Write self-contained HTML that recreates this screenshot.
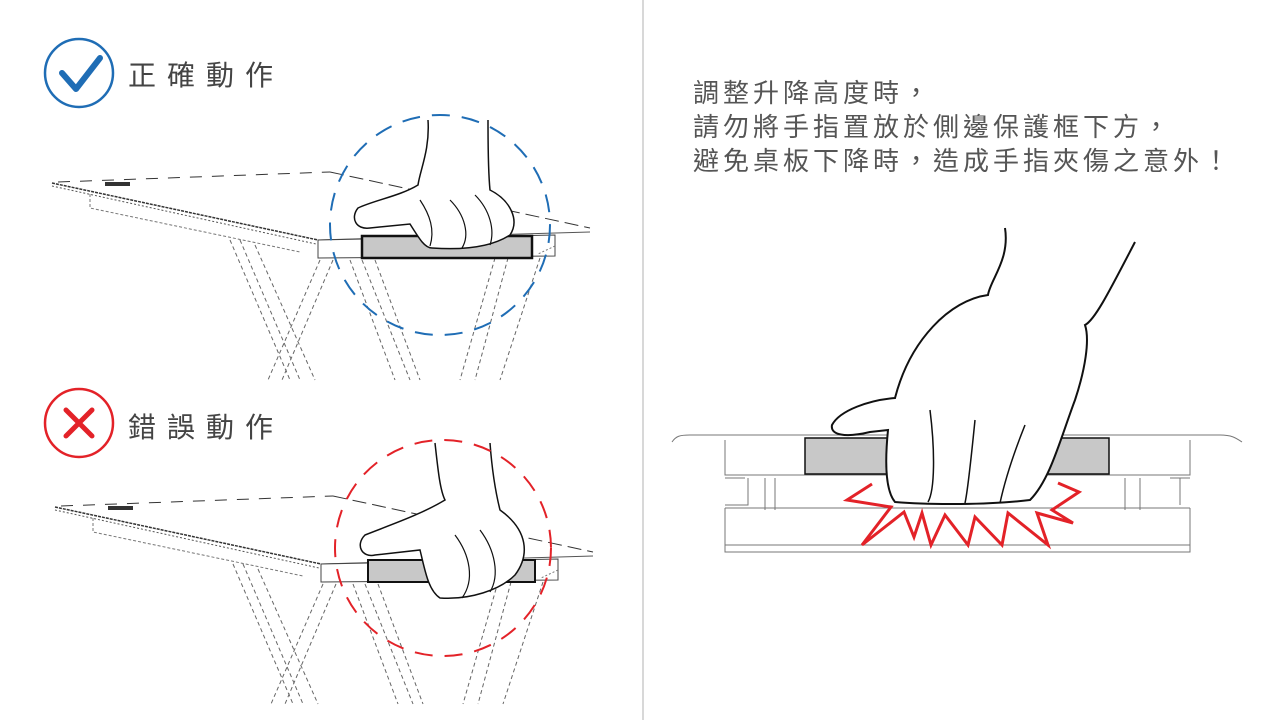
<!DOCTYPE html>
<html><head><meta charset="utf-8"><style>
body{margin:0;background:#fff;width:1280px;height:720px;overflow:hidden;position:relative;font-family:"Liberation Sans","Noto Sans CJK TC",sans-serif}
.t{position:absolute;color:#555;white-space:nowrap}
</style></head><body>
<svg width="1280" height="720" style="position:absolute;left:0;top:0">
<defs>
<g id="desk">
 <path d="M52,183 L318,240" stroke="#333" stroke-width="1.5" fill="none" stroke-dasharray="3,1"/>
 <path d="M52,186 L316,244" stroke="#555" stroke-width="1" fill="none" stroke-dasharray="2,2"/>
 <path d="M58,182 L330,172" stroke="#333" stroke-width="1" fill="none" stroke-dasharray="12,10"/>
 <path d="M330,172 L590,228" stroke="#333" stroke-width="1" fill="none" stroke-dasharray="14,6"/>
 <path d="M318,240 L590,232" stroke="#555" stroke-width="1" fill="none"/>
 <rect x="105" y="182" width="25" height="4" fill="#333"/>
 <path d="M90,194 L90,208 L300,252" stroke="#777" stroke-width="1" fill="none" stroke-dasharray="3,2"/>
 <path d="M318,240 L555,235 L555,256 L318,258 Z" fill="#fff" stroke="#444" stroke-width="1"/>
 <path d="M555,246 L538,254" stroke="#777" stroke-dasharray="2,2"/>
 <g stroke="#666" stroke-width="1" stroke-dasharray="4,3" fill="none">
  <path d="M230,240 L290,380 M240,240 L300,380 M255,245 L315,380"/>
  <path d="M320,260 L268,380 M333,260 L282,380"/>
  <path d="M350,260 L395,380 M362,260 L410,380 M375,260 L420,380"/>
  <path d="M495,258 L460,380 M508,258 L475,380 M540,258 L500,380"/>
 </g>
</g>
</defs>

<line x1="643" y1="0" x2="643" y2="720" stroke="#ccc" stroke-width="1.5"/>

<circle cx="79" cy="73" r="34" fill="none" stroke="#1f6db5" stroke-width="2.5"/>
<path d="M62,73 L76,89 L100,58" fill="none" stroke="#1f6db5" stroke-width="6" stroke-linecap="round" stroke-linejoin="round"/>

<circle cx="79" cy="423" r="34" fill="none" stroke="#e32228" stroke-width="2.5"/>
<path d="M66,410 L92,436 M92,410 L66,436" stroke="#e32228" stroke-width="5" stroke-linecap="round"/>

<use href="#desk"/>
<rect x="362" y="236" width="170" height="22" fill="#c8c8c8" stroke="#111" stroke-width="2.5"/>
<path d="M428,120 C430,150 420,170 418,185 C400,196 375,200 358,208 C350,218 356,230 370,228 L410,224 C420,240 425,248 432,248 C460,250 490,248 510,235 C520,220 510,200 490,190 C488,170 488,140 488,120" fill="#fff" stroke="#111" stroke-width="1.5"/>
<path d="M420,200 C430,215 435,230 430,246 M450,200 C465,215 470,235 462,248 M475,195 C490,210 495,230 490,245" fill="none" stroke="#111" stroke-width="1.2"/>
<circle cx="440" cy="225" r="110" fill="none" stroke="#1f6db5" stroke-width="2" stroke-dasharray="18,12"/>

<g transform="translate(3,324)"><use href="#desk"/></g>
<rect x="368" y="560" width="167" height="22" fill="#c8c8c8" stroke="#111" stroke-width="2"/>
<path d="M435,443 C438,470 440,490 445,500 C420,515 390,525 365,535 C355,545 362,558 375,555 L420,550 C425,570 428,590 440,598 C470,600 500,590 515,575 C530,555 528,530 500,510 C495,490 492,470 490,443" fill="#fff" stroke="#111" stroke-width="1.5"/>
<path d="M455,535 C470,555 475,580 462,598 M480,530 C495,550 500,575 490,592" fill="none" stroke="#111" stroke-width="1.2"/>
<circle cx="443" cy="548" r="108" fill="none" stroke="#e32228" stroke-width="2" stroke-dasharray="18,12"/>

<g stroke="#777" stroke-width="1" fill="none">
 <path d="M672,442 C676,436 680,435 690,435 L1220,435 C1232,435 1236,438 1242,442"/>
 <path d="M725,440 L725,475 L1190,475 L1190,440"/>
 <path d="M725,478 L745,478 M1170,478 L1190,478"/>
 <path d="M748,478 L748,505 L725,505 M1180,478 L1180,505"/>
 <path d="M765,478 L765,510 M775,478 L775,510 M1125,478 L1125,510 M1140,478 L1140,510"/>
 <path d="M725,508 L1190,508 M725,508 L725,552 L1190,552 L1190,508"/>
 <path d="M725,545 L1190,545"/>
</g>
<rect x="805" y="438" width="304" height="36" fill="#c8c8c8" stroke="#111" stroke-width="1.5"/>
<path d="M1005,228 C1010,260 990,280 988,295 C950,300 910,340 895,398 C870,400 840,410 832,425 C830,435 845,438 870,432 L888,430 C885,460 885,490 895,502 C930,505 990,505 1030,500 C1050,480 1060,440 1075,400 C1085,370 1090,340 1085,325 C1095,320 1110,290 1135,242" fill="#fff" stroke="#111" stroke-width="2"/>
<path d="M930,410 C935,450 935,490 928,502 M975,420 C972,450 968,490 965,503 M1025,425 C1015,450 1005,480 1000,503" fill="none" stroke="#111" stroke-width="1.5"/>
<polyline points="872,484 847,500 891,507 862,545 904,512 914,537 922,513 931,545 945,515 968,545 975,517 1002,545 1008,513 1048,545 1037,513 1073,523 1052,510 1079,492 1058,483" fill="none" stroke="#e32228" stroke-width="3" stroke-linejoin="miter"/>
</svg>

<div class="t" style="left:128px;top:54px;font-size:28px;letter-spacing:11px;color:#444">正確動作</div>
<div class="t" style="left:128px;top:406px;font-size:28px;letter-spacing:11px;color:#444">錯誤動作</div>
<div class="t" style="left:693px;top:76px;font-size:26px;line-height:34px;letter-spacing:4px;color:#555">調整升降高度時，<br>請勿將手指置放於側邊保護框下方，<br>避免桌板下降時，造成手指夾傷之意外！</div>
</body></html>
